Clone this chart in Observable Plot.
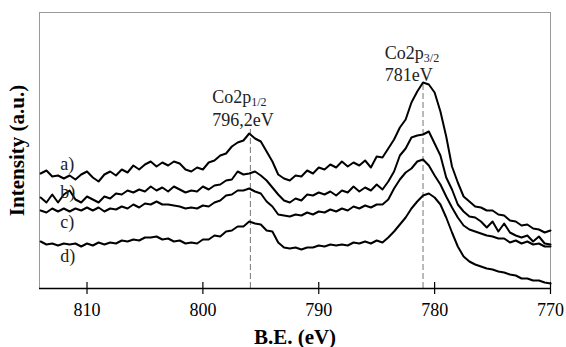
<!DOCTYPE html>
<html><head><meta charset="utf-8">
<script src="https://cdn.jsdelivr.net/npm/d3@7"></script>
<script src="https://cdn.jsdelivr.net/npm/@observablehq/plot@0.6"></script>
<style>html,body{margin:0;padding:0;background:#fff;} svg text{font-family:"Liberation Serif","Times New Roman",serif;}</style>
</head><body><div id="chart"></div>
<script>
// Binding energy grid (eV)
const energies = [
  814,813.5,813,812.5,812,811.5,811,810.5,810,809.5,
  809,808.5,808,807.5,807,806.5,806,805.5,805,804.5,
  804,803.5,803,802.5,802,801.5,801,800.5,800,799.5,
  799,798.5,798,797.5,797,796.5,796,795.5,795,794.5,
  794,793.5,793,792.5,792,791.5,791,790.5,790,789.5,
  789,788.5,788,787.5,787,786.5,786,785.5,785,784.5,
  784,783.5,783,782.5,782,781.5,781,780.5,780,779.5,
  779,778.5,778,777.5,777,776.5,776,775.5,775,774.5,
  774,773.5,773,772.5,772,771.5,771,770.5,770
];
// Intensities (a.u., offset spectra)
const seriesA = [
  115,118,112,113,110,113,109,114,117,111,
  107,114,117,113,119,116,123,119,124,127,
  122,126,123,127,125,119,117,121,119,126,
  128,133,135,142,146,148,155,150,147,137,
  127,114,110,108,113,112,118,115,121,119,
  124,121,127,122,126,123,128,121,132,131,
  140,149,161,169,186,197,206,204,196,177,
  152,122,106,92,87,82,81,78,78,74,
  73,68,67,63,64,60,59,56,58
];
const seriesB = [
  91,86,94,86,94,98,89,86,92,89,
  86,92,90,95,94,98,96,99,97,102,
  98,101,97,102,99,96,98,97,102,99,
  103,104,108,109,117,114,115,117,113,108,
  101,94,88,86,90,88,94,93,96,94,
  97,93,98,96,102,97,101,98,104,99,
  107,117,133,140,151,153,154,157,145,133,
  111,99,84,77,72,71,67,61,67,57,
  65,56,53,51,53,47,52,45,44
];
const seriesC = [
  78,76,80,77,80,77,80,78,81,78,
  81,77,80,79,82,80,84,81,85,84,
  87,84,84,83,82,80,81,80,83,82,
  86,88,93,94,98,98,100,97,95,87,
  82,74,73,72,74,73,76,74,77,76,
  79,77,80,78,82,80,83,81,84,84,
  89,100,109,116,120,127,129,123,113,104,
  92,81,71,63,59,57,55,53,52,50,
  50,46,48,45,47,44,45,42,42
];
const seriesD = [
  47,44,45,43,45,44,45,42,45,43,
  46,44,46,45,48,47,49,48,51,51,
  52,49,50,47,48,45,46,45,49,49,
  53,52,57,58,62,62,67,65,64,58,
  57,46,41,40,41,39,41,41,43,42,
  44,43,44,43,46,45,47,45,48,46,
  51,57,64,71,80,87,93,95,91,84,
  71,56,42,32,27,24,22,20,19,17,
  16,14,13,10,10,8,8,6,5
];
const seriesNames = ["a)", "b)", "c)", "d)"];
const xTicks = [810, 800, 790, 780, 770];
const peakNames = ["Co2p", "Co2p"];
const peakSubs = ["1/2", "3/2"];
const peakValues = ["796,2eV", "781eV"];
const peakEnergies = [795.9, 781.0];

const allSeries = [seriesA, seriesB, seriesC, seriesD];
const rows = [];
allSeries.forEach((s, k) => s.forEach((v, i) => rows.push({series: seriesNames[k], be: energies[i], intensity: v})));

// annotation anchors (data space)
const seriesLabelY = [119, 91, 61, 27];
const labels = seriesNames.map((n, i) => ({name: n, be: 812.3, y: seriesLabelY[i]}));
const peakTop = [160, 207];
const annX = [799.2, 784.3];
const annY1 = [186, 230];
const annY2 = [163, 208];
const ann = peakNames.map((n, i) => ({name: n, sub: peakSubs[i], value: peakValues[i], x: annX[i], y1: annY1[i], y2: annY2[i], line: peakEnergies[i], top: peakTop[i]}));

const serif = "Liberation Serif, Times New Roman, serif";

const chart = Plot.plot({
  width: 566,
  height: 347,
  marginLeft: 39,
  marginRight: 16,
  marginTop: 12,
  marginBottom: 59,
  style: {fontFamily: serif, fontSize: "18px", background: "white", color: "black"},
  x: {domain: [814.1, 770], axis: null},
  y: {domain: [0, 276], axis: null},
  marks: [
    Plot.frame({stroke: "#999", strokeWidth: 1}),
    Plot.ruleX(ann, {x: "line", y1: 0, y2: "top", stroke: "#777", strokeWidth: 1, strokeDasharray: "6,3"}),
    Plot.line(rows, {x: "be", y: "intensity", z: "series", stroke: "black", strokeWidth: 2, strokeLinejoin: "round"}),
    Plot.ruleY([0], {stroke: "black", strokeWidth: 1.5}),
    Plot.ruleX(xTicks, {x: d => d, y1: 0, y2: 0, insetTop: -6, insetBottom: -6, stroke: "black", strokeWidth: 1.2}),
    Plot.axisX(xTicks, {tickSize: 0, tickPadding: 15, fontSize: 18, fontFamily: serif, tickFormat: d => String(d)}),
    Plot.text(labels, {x: "be", y: "y", text: "name", textAnchor: "start", lineAnchor: "bottom", fontSize: 18, fontFamily: serif, fill: "#222"}),
    Plot.text(ann, {x: "x", y: "y1", text: "name", textAnchor: "start", lineAnchor: "bottom", fontSize: 18, fontFamily: serif, fill: "#222"}),
    Plot.text(ann, {x: "x", y: "y1", text: "sub", textAnchor: "start", lineAnchor: "bottom", fontSize: 12, fontFamily: serif, dx: 39, dy: 3, fill: "#222"}),
    Plot.text(ann, {x: "x", y: "y2", text: "value", textAnchor: "start", lineAnchor: "bottom", fontSize: 18, fontFamily: serif, fill: "#222"}),
    Plot.text(["B.E. (eV)"], {frameAnchor: "bottom", dy: 55, lineAnchor: "bottom", textAnchor: "middle", fontSize: 21, fontWeight: "bold", fontFamily: serif}),
    Plot.text(["Intensity (a.u.)"], {frameAnchor: "left", dx: -22, rotate: -90, textAnchor: "middle", lineAnchor: "middle", fontSize: 21, fontWeight: "bold", fontFamily: serif})
  ]
});
document.getElementById("chart").appendChild(chart);
</script>
</body></html>
